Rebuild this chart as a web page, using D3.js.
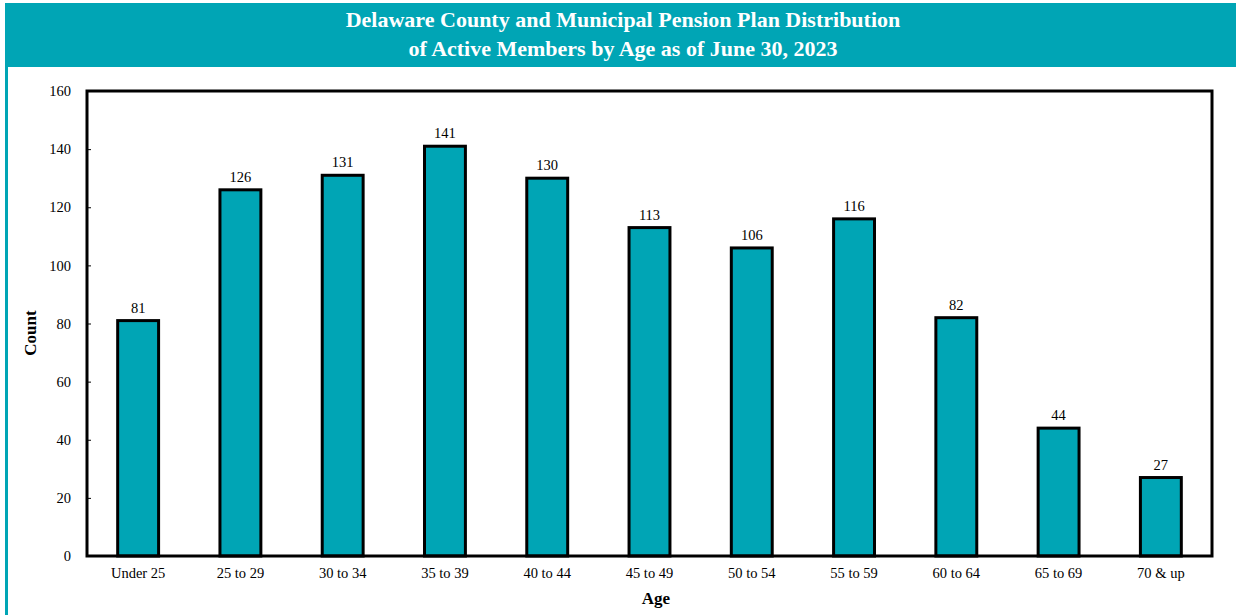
<!DOCTYPE html>
<html>
<head>
<meta charset="utf-8">
<script src="https://cdn.jsdelivr.net/npm/d3@7"></script>
<style>
  html, body { margin: 0; padding: 0; background: #fff; }
  svg { display: block; }
</style>
</head>
<body>
<svg id="chart" width="1236" height="615"></svg>
<script>
const categories = ["Under 25", "25 to 29", "30 to 34", "35 to 39", "40 to 44", "45 to 49", "50 to 54", "55 to 59", "60 to 64", "65 to 69", "70 & up"];
const counts = [81, 126, 131, 141, 130, 113, 106, 116, 82, 44, 27];
const yTicks = [0, 20, 40, 60, 80, 100, 120, 140, 160];
const titleLines = ["Delaware County and Municipal Pension Plan Distribution", "of Active Members by Age as of June 30, 2023"];

const teal = "#00A5B5";
const font = "'Liberation Serif', 'Times New Roman', serif";
const svg = d3.select("#chart");

// header band and left border
svg.append("rect").attr("x", 5).attr("y", 3).attr("width", 1231).attr("height", 64).attr("fill", teal);
svg.append("rect").attr("x", 5).attr("y", 3).attr("width", 3).attr("height", 612).attr("fill", teal);

svg.append("text")
  .attr("font-family", font).attr("font-weight", "bold")
  .attr("font-size", 22).attr("fill", "#fff").attr("text-anchor", "middle")
  .selectAll("tspan").data(titleLines).join("tspan")
  .attr("x", 623).attr("y", (d, i) => 27 + i * 29).text(d => d);

const m = { left: 87, top: 91, right: 1212, bottom: 556 };
const x = d3.scaleBand().domain(categories).range([m.left, m.right]).paddingInner(0.6).paddingOuter(0.3);
const y = d3.scaleLinear().domain([0, 160]).range([m.bottom, m.top]);

// bars
svg.append("g").selectAll("rect").data(counts).join("rect")
  .attr("x", (d, i) => x(categories[i]))
  .attr("y", d => y(d))
  .attr("width", x.bandwidth())
  .attr("height", d => y(0) - y(d))
  .attr("fill", teal).attr("stroke", "#000").attr("stroke-width", 3);

// value labels
svg.append("g").selectAll("text").data(counts).join("text")
  .attr("x", (d, i) => x(categories[i]) + x.bandwidth() / 2)
  .attr("y", d => y(d) - 8)
  .attr("text-anchor", "middle").attr("font-family", font).attr("font-size", 14.5).attr("fill", "#000")
  .text(d => d);

// frame
svg.append("rect").attr("x", m.left).attr("y", m.top)
  .attr("width", m.right - m.left).attr("height", m.bottom - m.top)
  .attr("fill", "none").attr("stroke", "#000").attr("stroke-width", 3);

// y axis
const yAxis = svg.append("g").attr("transform", `translate(${m.left},0)`)
  .call(d3.axisLeft(y).tickValues(yTicks).tickSize(-4).tickPadding(16));
yAxis.select(".domain").remove();
yAxis.selectAll("line").attr("stroke", "#000");
yAxis.selectAll("text").attr("font-family", font).attr("font-size", 14.5).attr("fill", "#000");

// x axis
const xAxis = svg.append("g").attr("transform", `translate(0,${m.bottom})`)
  .call(d3.axisBottom(x).tickSize(0).tickPadding(12));
xAxis.select(".domain").remove();
xAxis.selectAll("text").attr("font-family", font).attr("font-size", 14.5).attr("fill", "#000");

// axis titles
svg.append("text").attr("transform", `translate(36,333) rotate(-90)`)
  .attr("text-anchor", "middle").attr("font-family", font).attr("font-weight", "bold").attr("font-size", 17)
  .text("Count");
svg.append("text").attr("x", 656).attr("y", 604)
  .attr("text-anchor", "middle").attr("font-family", font).attr("font-weight", "bold").attr("font-size", 17)
  .text("Age");
</script>
</body>
</html>
